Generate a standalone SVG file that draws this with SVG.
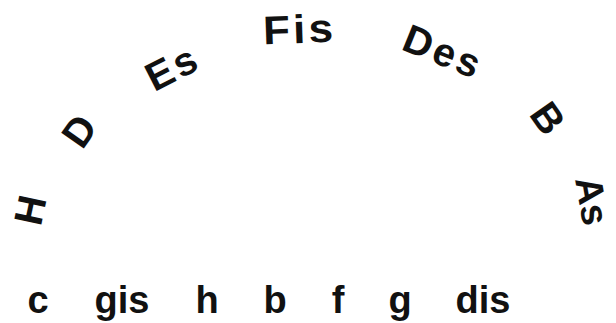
<svg xmlns="http://www.w3.org/2000/svg" width="616" height="323" viewBox="0 0 616 323">
<style>
text{font-family:"Liberation Sans",Arial,sans-serif;font-weight:bold;fill:#111;text-anchor:middle}
.arc{font-size:40px;letter-spacing:3px}
.low{font-size:38px}
</style>
<rect width="616" height="323" fill="#fff"/>
<g id="arc">
<g id="H" transform="translate(30,210) rotate(-78)"><text class="arc" x="1.5" y="14">H</text></g>
<g id="D" transform="translate(79,131) rotate(-55)"><text class="arc" x="1.5" y="14">D</text></g>
<g id="Es" transform="translate(171,68) rotate(-27)"><text class="arc" x="1.5" y="14">Es</text></g>
<g id="Fis" transform="translate(298,29) rotate(-2) scale(1.1,1)"><text class="arc" x="1.5" y="14">Fis</text></g>
<g id="Des" transform="translate(442,51) rotate(22)"><text class="arc" x="1.5" y="14">Des</text></g>
<g id="B" transform="translate(548,118) rotate(55)"><text class="arc" x="1.5" y="14">B</text></g>
<g id="As" transform="translate(592,201) rotate(80)"><text class="arc" y="13" style="font-size:38px;letter-spacing:0">As</text></g>
</g>
<g id="bottom">
<text class="low" x="38" y="313">c</text>
<text class="low" x="122" y="313">gis</text>
<text class="low" x="207" y="313">h</text>
<text class="low" x="275" y="313">b</text>
<text class="low" x="338" y="313">f</text>
<text class="low" x="400" y="313">g</text>
<text class="low" x="483" y="313">dis</text>
</g>
</svg>
